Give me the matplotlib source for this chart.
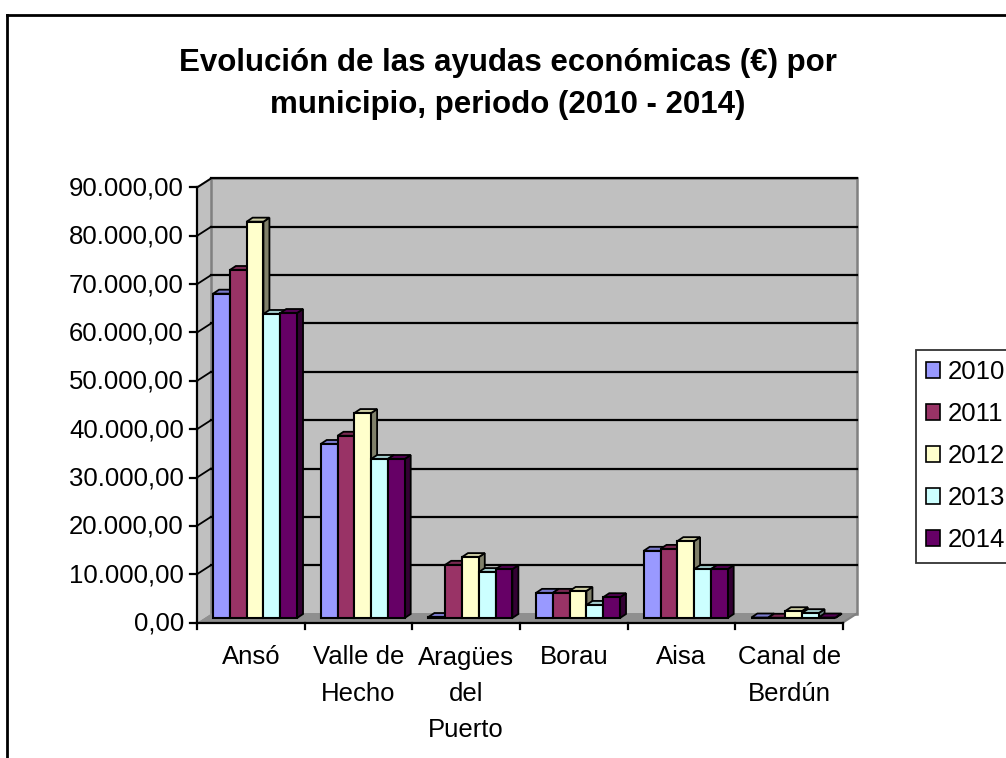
import matplotlib
matplotlib.use('Agg')
import matplotlib.pyplot as plt
from matplotlib.patches import Polygon, Rectangle, Patch
from matplotlib.lines import Line2D

plt.rcParams['font.family'] = ['Liberation Sans', 'DejaVu Sans']

# ---------------- data ----------------
categories = ["Ansó", "Valle de\nHecho", "Aragües\ndel\nPuerto", "Borau", "Aisa", "Canal de\nBerdún"]
years = ["2010", "2011", "2012", "2013", "2014"]
v2010 = [67100, 36000, 200, 5200, 13900, 100]
v2011 = [72000, 37700, 11000, 5200, 14300, 50]
v2012 = [82000, 42400, 12600, 5600, 15900, 1400]
v2013 = [62900, 32900, 9500, 2700, 10100, 1000]
v2014 = [63100, 32900, 10100, 4300, 10100, 100]
y_ticks = [0, 10000, 20000, 30000, 40000, 50000, 60000, 70000, 80000, 90000]
title = "Evolución de las ayudas económicas (€) por\nmunicipio, periodo (2010 - 2014)"

series = [v2010, v2011, v2012, v2013, v2014]
front_cols = ["#9999FF", "#993366", "#FFFFCC", "#CCFFFF", "#660066"]
top_cols = ["#7A7ACC", "#7A2952", "#CCCCA3", "#A3CCCC", "#520052"]
side_cols = ["#4D4D80", "#4D1A33", "#80806A", "#668080", "#330033"]

FS = 18.5

W, H = 1006, 758
fig = plt.figure(figsize=(W / 100, H / 100), dpi=100)
fig.patch.set_facecolor('white')

# plot plane (middle depth) in pixel coordinates
L, R, B, T = 204, 850, 618, 183
ax = fig.add_axes([L / W, 1 - B / H, (R - L) / W, (B - T) / H])
ncat = len(categories)
ymax = y_ticks[-1]
ax.set_xlim(0, ncat)
ax.set_ylim(0, ymax)
ax.axis('off')

xp = ncat / (R - L)      # data units per pixel (x)
yp = ymax / (B - T)      # data units per pixel (y)
bx, by = 7 * xp, 4.5 * yp     # back plane offset
fx, fy = -7 * xp, -4.5 * yp   # front plane offset

wall = "#C0C0C0"
# side wall
ax.add_patch(Polygon([(fx, fy), (bx, by), (bx, ymax + by), (fx, ymax + fy)],
                     closed=True, facecolor=wall, edgecolor='none', clip_on=False, zorder=1))
ax.plot([fx, bx], [ymax + fy, ymax + by], color="#808080", lw=1.5, clip_on=False, zorder=2)
# back wall
ax.add_patch(Rectangle((bx, by), ncat, ymax, facecolor=wall, edgecolor="#808080",
                       lw=1.8, clip_on=False, zorder=1))
# floor
ax.add_patch(Polygon([(fx, fy), (ncat + fx, fy), (ncat + bx, by), (bx, by)],
                     closed=True, facecolor="#8F8F8F", edgecolor='none', clip_on=False, zorder=1))
ax.plot([ncat + fx, ncat + bx], [fy, by], color="#808080", lw=1.5, clip_on=False, zorder=2)

# gridlines
for t in y_ticks[1:]:
    ax.plot([bx, ncat + bx], [t + by, t + by], color='black', lw=1.6, clip_on=False, zorder=2)
    ax.plot([fx, bx], [t + fy, t + by], color='black', lw=1.3, clip_on=False, zorder=2)

# bars
bw = 0.156
gshift = -0.026
dx, dy = 6 * xp, 4 * yp
z = 3
for i in range(ncat):
    start = i + 0.5 + gshift - bw * len(series) / 2
    for j, vals in enumerate(series):
        x0 = start + j * bw
        h = vals[i]
        ax.add_patch(Polygon([(x0 + bw, 0), (x0 + bw + dx, dy), (x0 + bw + dx, h + dy), (x0 + bw, h)],
                             closed=True, facecolor=side_cols[j], edgecolor='black', lw=1.3,
                             clip_on=False, zorder=z))
        ax.add_patch(Polygon([(x0, h), (x0 + bw, h), (x0 + bw + dx, h + dy), (x0 + dx, h + dy)],
                             closed=True, facecolor=top_cols[j], edgecolor='black', lw=1.3,
                             clip_on=False, zorder=z))
        ax.add_patch(Rectangle((x0, 0), bw, h, facecolor=front_cols[j], edgecolor='black',
                               lw=1.5, clip_on=False, zorder=z + 0.5))
        z += 1

# axes lines
ax.plot([fx, fx], [fy, ymax + fy], color='black', lw=1.6, clip_on=False, zorder=200)
ax.plot([fx, ncat + fx], [fy, fy], color='black', lw=1.6, clip_on=False, zorder=200)
for t in y_ticks:
    ax.plot([fx - 7 * xp, fx], [t + fy, t + fy], color='black', lw=1.6, clip_on=False, zorder=200)
    lab = f"{t:,.2f}".replace(",", "X").replace(".", ",").replace("X", ".")
    ax.text(fx - 13 * xp, t + fy - 1 * yp, lab, ha='right', va='center', fontsize=FS,
            clip_on=False)
for k in range(ncat + 1):
    ax.plot([k + fx, k + fx], [fy, fy - 6 * yp], color='black', lw=1.6, clip_on=False, zorder=200)
for i, c in enumerate(categories):
    ax.text(i + 0.5 + fx, fy - 23 * yp, c, ha='center', va='top', fontsize=FS,
            linespacing=1.64, clip_on=False)

# title
fig.text(508 / W, 1 - 84 / H, title, ha='center', va='center', fontsize=22.5,
         fontweight='bold', linespacing=1.5)

# legend
handles = [Patch(facecolor=front_cols[j], edgecolor='black', lw=1.2) for j in range(len(years))]
leg = fig.legend(handles, years, loc='upper left', bbox_to_anchor=(916 / W, 1 - 350 / H),
                 fontsize=FS, frameon=True, fancybox=False, shadow=False,
                 handlelength=0.55, handleheight=0.55, handletextpad=0.3,
                 labelspacing=0.7, borderpad=0.4, borderaxespad=0)
leg.get_frame().set_edgecolor('black')
leg.get_frame().set_linewidth(1.3)

# chart area border
fig.add_artist(Line2D([7 / W, 7 / W], [0, 1 - 15 / H], color='black', lw=2))
fig.add_artist(Line2D([7 / W, 1], [1 - 15 / H, 1 - 15 / H], color='black', lw=2))

fig.savefig("out.png", dpi=100)
